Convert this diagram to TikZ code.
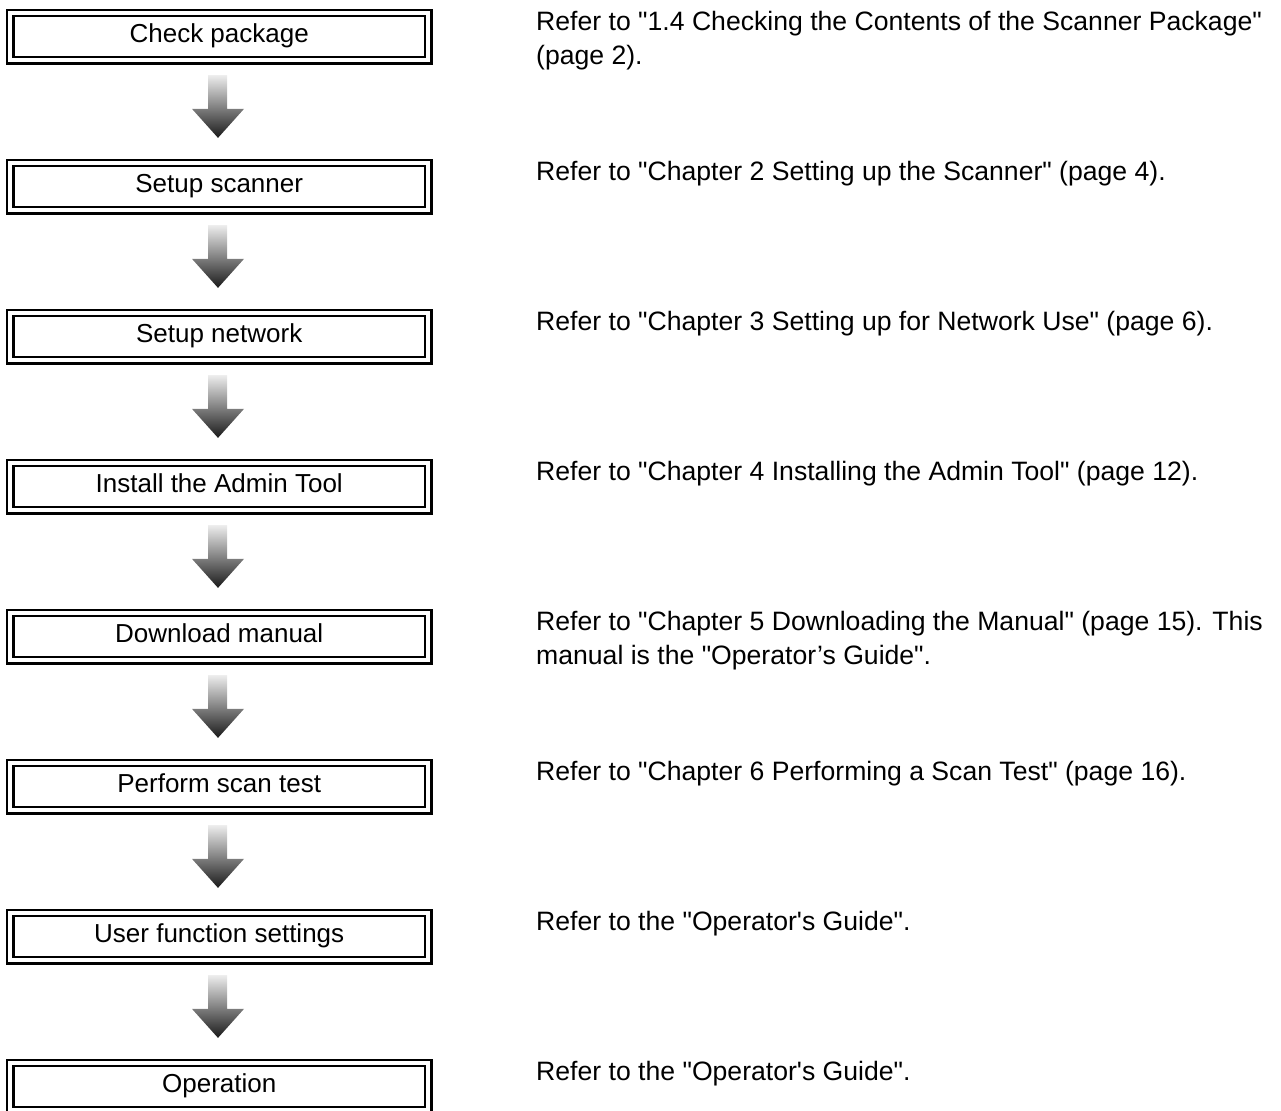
\documentclass[tikz,border=0pt]{standalone}
\usepackage{fontspec}
\setmainfont{Liberation Sans}
\usetikzlibrary{calc}
\newcommand{\qd}{\textquotedbl}
\newcommand{\qs}{\textquotesingle}
\tikzset{
  stepbox/.style={draw=black, line width=2.3pt, double=white, double distance=4.3pt,
    minimum width=418pt, minimum height=47.15pt, inner sep=0pt,
    text height=18pt, text depth=6.5pt,
    font=\fontsize{26}{30}\selectfont},
  note/.style={anchor=base west, inner sep=0pt, align=left,
    font=\fontsize{26.6}{33.6}\selectfont},
  flowarrow/.style={top color=black!7, bottom color=black!90, draw=none},
}
\newcommand{\flowarr}[2]{%
  \path[flowarrow] ($(#1.south)+(-11.2,13.85)$) -- ($(#2.north)+(-11.2,-53)$)
    -- ($(#2.north)+(-27.2,-53)$) -- ($(#2.north)+(-1.2,-24)$)
    -- ($(#2.north)+(24.8,-53)$) -- ($(#2.north)+(7.8,-53)$)
    -- ($(#1.south)+(7.8,13.85)$) -- cycle;}
\begin{document}
\begin{tikzpicture}[x=1pt,y=-1pt]
\useasboundingbox (0,0) rectangle (1281,1110);
\clip (0,0) rectangle (1281,1110);
\foreach \t [count=\i from 0] in {Check package,Setup scanner,Setup network,Install the Admin Tool,Download manual,Perform scan test,User function settings,Operation}{
  \node[stepbox] (b\i) at (219.2,{36.6+150*\i}) {\t};
}
\foreach \i [evaluate=\i as \j using int(\i+1)] in {0,...,6}{
  \flowarr{b\i}{b\j}
}
\node[note] (n0) at (536,64.3) {Refer to \qd1.4 Checking the Contents of the Scanner Package\qd\\(page 2).};
\node[note] (n1) at (536,180.7) {Refer to \qd Chapter 2 Setting up the Scanner\qd{} (page 4).};
\node[note] (n2) at (536,330.7) {Refer to \qd Chapter 3 Setting up for Network Use\qd{} (page 6).};
\node[note] (n3) at (536,480.7) {Refer to \qd Chapter 4 Installing the Admin Tool\qd{} (page 12).};
\node[note] (n4) at (536,664.3) {Refer to \qd Chapter 5 Downloading the Manual\qd{} (page 15). This\\manual is the \qd Operator’s Guide\qd.};
\node[note] (n5) at (536,780.7) {Refer to \qd Chapter 6 Performing a Scan Test\qd{} (page 16).};
\node[note] (n6) at (536,930.7) {Refer to the \qd Operator\qs s Guide\qd.};
\node[note] (n7) at (536,1080.7) {Refer to the \qd Operator\qs s Guide\qd.};
\end{tikzpicture}
\end{document}
